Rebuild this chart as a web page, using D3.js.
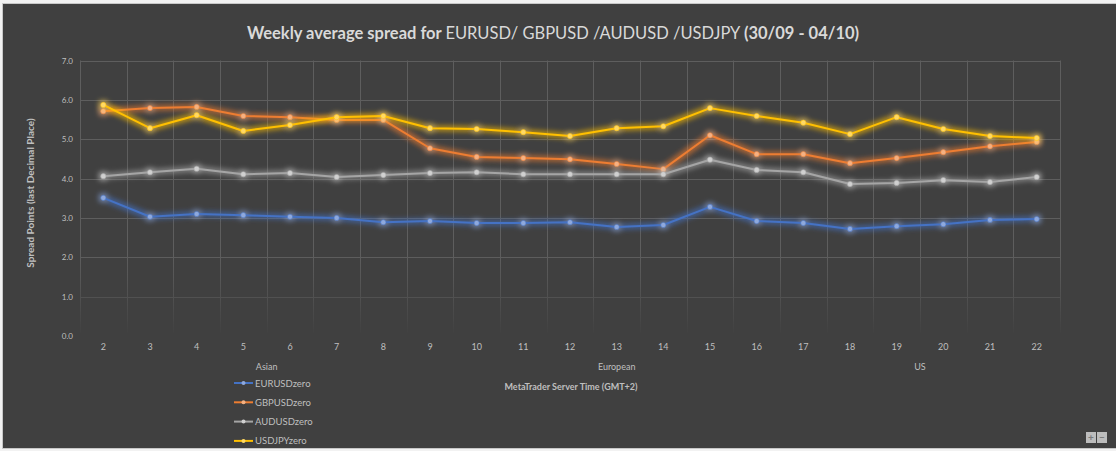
<!DOCTYPE html>
<html><head><meta charset="utf-8">
<script src="https://cdn.jsdelivr.net/npm/d3@7"></script>
<style>
html,body{margin:0;padding:0;background:#f2f2f2;}
svg{display:block;}
text{font-family:Lato,"Open Sans",sans-serif;}
</style></head>
<body>
<svg id="chart" width="1116" height="451"></svg>
<script>
const categories = ["2","3","4","5","6","7","8","9","10","11","12","13","14","15","16","17","18","19","20","21","22"];
const EURUSDzero = [3.51,3.03,3.10,3.07,3.03,3.00,2.89,2.92,2.87,2.87,2.89,2.77,2.82,3.28,2.92,2.87,2.72,2.79,2.84,2.95,2.97];
const GBPUSDzero = [5.71,5.79,5.82,5.59,5.56,5.49,5.49,4.77,4.55,4.52,4.49,4.37,4.24,5.10,4.62,4.62,4.39,4.52,4.67,4.82,4.93];
const AUDUSDzero = [4.06,4.16,4.25,4.11,4.14,4.04,4.09,4.14,4.16,4.11,4.11,4.11,4.11,4.48,4.22,4.16,3.86,3.89,3.96,3.91,4.04];
const USDJPYzero = [5.87,5.28,5.61,5.21,5.36,5.56,5.59,5.28,5.26,5.18,5.08,5.28,5.33,5.79,5.59,5.42,5.13,5.56,5.26,5.08,5.03];
const yTicks = [0,1,2,3,4,5,6,7];
const sessionLabels = ["Asian","European","US"];
const sessionFirst = ["2","10","17"];
const sessionLast = ["9","16","22"];
const seriesNames = ["EURUSDzero","GBPUSDzero","AUDUSDzero","USDJPYzero"];
const seriesValues = [EURUSDzero,GBPUSDzero,AUDUSDzero,USDJPYzero];
const seriesColors = ["#4472c4","#ed7d31","#a5a5a5","#ffc000"];
const markerColors = ["#8fa9dc","#f4b183","#d0d0d0","#ffd966"];

const svg = d3.select("#chart");
const W = 1116, H = 451;

svg.append("rect").attr("x",0).attr("y",0).attr("width",W).attr("height",H).attr("fill","#f2f2f2");
svg.append("rect").attr("x",2.5).attr("y",3.5).attr("width",W-2).attr("height",445).attr("fill","#404040").attr("stroke","#c8c8c8").attr("stroke-width",1);

const defs = svg.append("defs");
seriesColors.forEach((c,i)=>{
  const f = defs.append("filter").attr("id","glow"+i).attr("x","-10%").attr("y","-50%").attr("width","120%").attr("height","200%");
  f.append("feMorphology").attr("in","SourceGraphic").attr("operator","dilate").attr("radius",1.5).attr("result","d");
  f.append("feGaussianBlur").attr("in","d").attr("stdDeviation",2.5).attr("result","b");
  f.append("feComponentTransfer").attr("in","b").attr("result","bt")
    .append("feFuncA").attr("type","linear").attr("slope",0.6);
  const m = f.append("feMerge");
  m.append("feMergeNode").attr("in","bt");
  m.append("feMergeNode").attr("in","SourceGraphic");
});
const grad = defs.append("linearGradient").attr("id","fade").attr("gradientUnits","userSpaceOnUse")
  .attr("x1",0).attr("y1",60).attr("x2",0).attr("y2",336);
grad.append("stop").attr("offset","0.7").attr("stop-color","#fff").attr("stop-opacity",1);
grad.append("stop").attr("offset","0.86").attr("stop-color","#fff").attr("stop-opacity",0.55);
grad.append("stop").attr("offset","1").attr("stop-color","#fff").attr("stop-opacity",0);
defs.append("mask").attr("id","gridmask").attr("maskUnits","userSpaceOnUse")
  .append("rect").attr("x",0).attr("y",0).attr("width",W).attr("height",H).attr("fill","url(#fade)");

const pLeft = 80, pRight = 1060, pTop = 60.5, pBottom = 336;
const x = d3.scaleBand().domain(categories).range([pLeft,pRight]);
const y = d3.scaleLinear().domain([0,7]).range([pBottom,pTop]);
const cx = c => x(c)+x.bandwidth()/2;

const g = svg.append("g").attr("mask","url(#gridmask)");
g.selectAll(".hg").data(yTicks).join("line")
  .attr("x1",pLeft).attr("x2",pRight).attr("y1",d=>Math.round(y(d))+0.5).attr("y2",d=>Math.round(y(d))+0.5)
  .attr("stroke","#5e5e5e").attr("stroke-width",1);
const vb = categories.map(c=>x(c)).concat([pRight]);
g.selectAll(".vg").data(vb).join("line")
  .attr("x1",d=>Math.round(d)+0.5).attr("x2",d=>Math.round(d)+0.5).attr("y1",pTop).attr("y2",pBottom)
  .attr("stroke","#5e5e5e").attr("stroke-width",1);

const yAxis = d3.axisLeft(y).tickValues(yTicks).tickFormat(d3.format(".1f")).tickSize(0).tickPadding(7);
const ya = svg.append("g").attr("transform",`translate(${pLeft},0)`).call(yAxis);
ya.select(".domain").remove();
ya.selectAll("text").attr("fill","#bfbfbf").attr("font-size","8px");

const xAxis = d3.axisBottom(x).tickSize(0).tickPadding(8);
const xa = svg.append("g").attr("transform",`translate(0,${pBottom})`).call(xAxis);
xa.select(".domain").remove();
xa.selectAll("text").attr("fill","#bfbfbf").attr("font-size","9px");

svg.selectAll(".sess").data(sessionLabels).join("text")
  .attr("x",(d,i)=>(cx(sessionFirst[i])+cx(sessionLast[i]))/2)
  .attr("y",370).attr("text-anchor","middle").attr("fill","#bfbfbf").attr("font-size","9px").text(d=>d);

const line = d3.line().x((d,i)=>cx(categories[i])).y(d=>y(d));
seriesValues.forEach((vals,i)=>{
  const sg = svg.append("g").attr("filter",`url(#glow${i})`);
  sg.append("path").datum(vals).attr("d",line).attr("fill","none").attr("stroke",seriesColors[i]).attr("stroke-width",2).attr("stroke-linejoin","round");
  sg.selectAll("circle").data(vals).join("circle")
    .attr("cx",(d,j)=>cx(categories[j])).attr("cy",d=>y(d)).attr("r",2.6)
    .attr("fill",markerColors[i]).attr("stroke",seriesColors[i]).attr("stroke-width",0.5);
});

const t = svg.append("text").attr("x",553).attr("y",38.5).attr("text-anchor","middle").attr("fill","#d9d9d9").attr("font-size","16.5px");
t.append("tspan").attr("font-weight","bold").text("Weekly average spread for ");
t.append("tspan").text("EURUSD/ GBPUSD /AUDUSD /USDJPY ");
t.append("tspan").attr("font-weight","bold").text("(30/09 - 04/10)");

svg.append("text").attr("transform","translate(34,193) rotate(-90)").attr("text-anchor","middle")
  .attr("fill","#bfbfbf").attr("font-size","10px").attr("font-weight","bold").text("Spread Points  (last Decimal Place)");
svg.append("text").attr("x",571).attr("y",390).attr("text-anchor","middle")
  .attr("fill","#bfbfbf").attr("font-size","9px").attr("font-weight","bold").text("MetaTrader Server Time (GMT+2)");

const lg = svg.append("g").attr("transform","translate(234,383)");
seriesNames.forEach((n,i)=>{
  const row = lg.append("g").attr("transform",`translate(0,${i*19.3})`);
  row.append("line").attr("x1",0).attr("x2",19).attr("y1",0).attr("y2",0).attr("stroke",seriesColors[i]).attr("stroke-width",2);
  row.append("circle").attr("cx",9.5).attr("cy",0).attr("r",2).attr("fill",markerColors[i]);
  row.append("text").attr("x",21).attr("y",3.5).attr("fill","#bfbfbf").attr("font-size","9.5px").text(n);
});

const zb = svg.append("g").attr("transform","translate(1086,432)");
["+","−"].forEach((s,i)=>{
  zb.append("rect").attr("x",i*11).attr("y",0).attr("width",10).attr("height",11).attr("fill","#bdbdbd");
  zb.append("text").attr("x",i*11+5).attr("y",9).attr("text-anchor","middle").attr("fill","#7a7a7a").attr("font-size","10px").attr("font-weight","bold").text(s);
});
</script>
</body></html>
